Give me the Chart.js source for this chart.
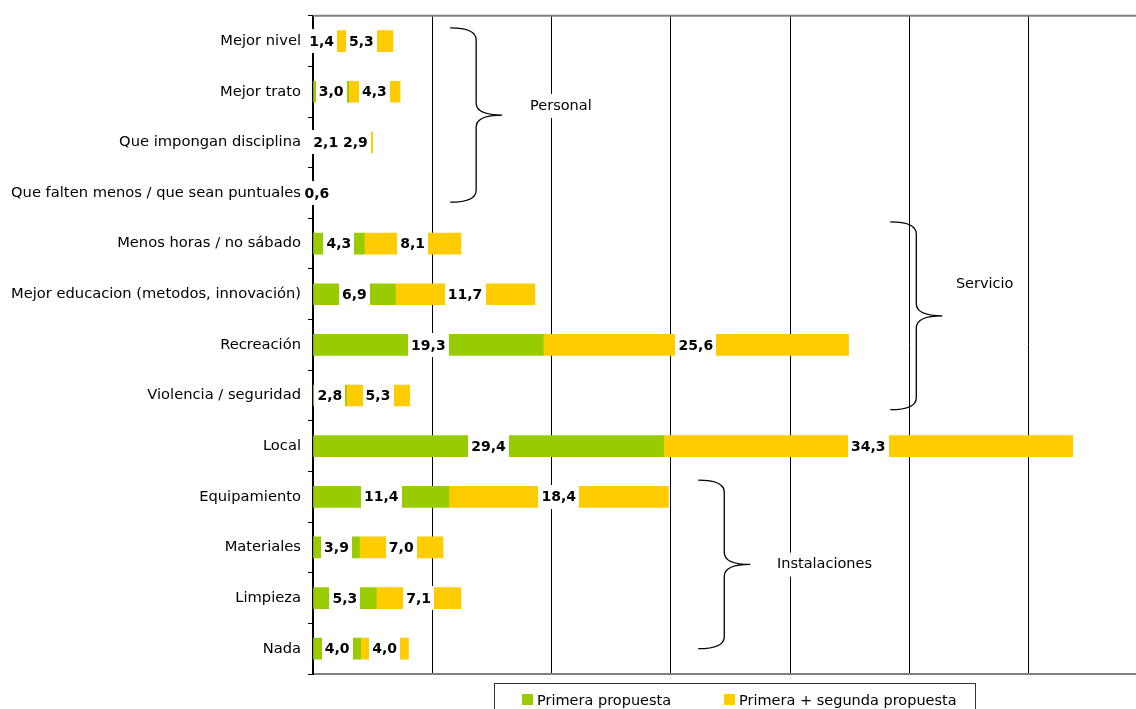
<!DOCTYPE html>
<html>
<head>
<meta charset="utf-8">
<script src="https://cdn.jsdelivr.net/npm/chart.js@4.4.0/dist/chart.umd.min.js"></script>
<style>
    html, body { margin: 0; padding: 0; background: #fff; overflow: hidden; }
</style>
</head>
<body>
<canvas id="propuestasChart" width="1136" height="709"></canvas>
<script>
const categorias = ['Mejor nivel', 'Mejor trato', 'Que impongan disciplina',
    'Que falten menos / que sean puntuales', 'Menos horas / no sábado',
    'Mejor educacion (metodos, innovación)', 'Recreación', 'Violencia / seguridad',
    'Local', 'Equipamiento', 'Materiales', 'Limpieza', 'Nada'];
const primera = [1.4, 3.0, 2.1, 0.6, 4.3, 6.9, 19.3, 2.8, 29.4, 11.4, 3.9, 5.3, 4.0];
const primeraSegunda = [5.3, 4.3, 2.9, null, 8.1, 11.7, 25.6, 5.3, 34.3, 18.4, 7.0, 7.1, 4.0];
const xTicks = [0, 10, 20, 30, 40, 50, 60];
const xMax = 69;

// llaves de agrupacion (posiciones en unidades de los ejes)
const grupos = [
    { texto: 'Personal', desde: -0.26, hasta: 3.18, x: 11.5, textoX: 18.2, textoY: 1.28 },
    { texto: 'Servicio', desde: 3.57, hasta: 7.28, x: 48.4, textoX: 53.9, textoY: 4.81 },
    { texto: 'Instalaciones', desde: 8.67, hasta: 12.0, x: 32.3, textoX: 38.9, textoY: 10.34 }
];

const verde = '#99CC00';
const amarillo = '#FFCC00';

const etiquetas = {
    id: 'etiquetas',
    afterDatasetsDraw(chart) {
        const ctx = chart.ctx;
        ctx.save();
        ctx.font = 'bold 14px "DejaVu Sans"';
        ctx.textAlign = 'center';
        ctx.textBaseline = 'middle';
        chart.data.datasets.forEach((ds, i) => {
            chart.getDatasetMeta(i).data.forEach((bar, j) => {
                const v = ds.data[j];
                if (v == null) return;
                const txt = v.toFixed(1).replace('.', ',');
                const cx = (bar.x + bar.base) / 2;
                const w = Math.round(ctx.measureText(txt).width + 6);
                ctx.fillStyle = '#fff';
                ctx.fillRect(Math.round(cx - w / 2), Math.round(bar.y) - 12, w, 24);
                ctx.fillStyle = '#000';
                ctx.fillText(txt, cx, bar.y + 1);
            });
        });
        ctx.restore();
    }
};

const extras = {
    id: 'extras',
    afterDraw(chart) {
        const ctx = chart.ctx;
        const xs = chart.scales.x, ys = chart.scales.y;
        const area = chart.chartArea;
        ctx.save();

        // borde superior del area
        ctx.strokeStyle = '#808080';
        ctx.lineWidth = 2;
        ctx.beginPath();
        ctx.moveTo(area.left, area.top);
        ctx.lineTo(area.right, area.top);
        ctx.stroke();

        // llaves
        ctx.strokeStyle = '#000';
        ctx.lineWidth = 1.3;
        ctx.font = '14.5px "DejaVu Sans"';
        ctx.textBaseline = 'middle';
        grupos.forEach(g => {
            const x0 = xs.getPixelForValue(g.x);
            const x1 = x0 + 26, x2 = x0 + 52;
            const y0 = ys.getPixelForValue(g.desde);
            const y2 = ys.getPixelForValue(g.hasta);
            const ym = (y0 + y2) / 2;
            const r = 12;
            ctx.beginPath();
            ctx.moveTo(x0, y0);
            ctx.bezierCurveTo(x0 + 18, y0, x1, y0 + 5, x1, y0 + r);
            ctx.lineTo(x1, ym - r);
            ctx.bezierCurveTo(x1, ym - 4, x1 + 10, ym, x2, ym);
            ctx.moveTo(x2, ym);
            ctx.bezierCurveTo(x1 + 10, ym, x1, ym + 4, x1, ym + r);
            ctx.lineTo(x1, y2 - r);
            ctx.bezierCurveTo(x1, y2 - 5, x0 + 18, y2, x0, y2);
            ctx.stroke();

            const tx = xs.getPixelForValue(g.textoX);
            const ty = ys.getPixelForValue(g.textoY);
            const w = ctx.measureText(g.texto).width;
            ctx.fillStyle = '#fff';
            ctx.fillRect(tx - 2, ty - 12, w + 4, 24);
            ctx.fillStyle = '#000';
            ctx.textAlign = 'left';
            ctx.fillText(g.texto, tx, ty);
        });

        // leyenda con recuadro
        const lx = 494, ly = 683;
        ctx.strokeStyle = '#333';
        ctx.lineWidth = 1;
        ctx.strokeRect(lx + 0.5, ly + 0.5, 481, 40);
        ctx.textBaseline = 'alphabetic';
        const items = [[verde, chart.data.datasets[0].label, 522], [amarillo, chart.data.datasets[1].label, 724]];
        items.forEach(([col, txt, ix]) => {
            ctx.fillStyle = col;
            ctx.fillRect(ix, 694, 11, 11);
            ctx.fillStyle = '#000';
            ctx.fillText(txt, ix + 15, 705);
        });
        ctx.restore();
    }
};

new Chart(document.getElementById('propuestasChart').getContext('2d'), {
    type: 'bar',
    data: {
        labels: categorias,
        datasets: [{
            label: 'Primera propuesta',
            data: primera,
            backgroundColor: verde,
            barThickness: 21
        }, {
            label: 'Primera + segunda propuesta',
            data: primeraSegunda,
            backgroundColor: amarillo,
            barThickness: 21
        }]
    },
    options: {
        indexAxis: 'y',
        responsive: false,
        animation: false,
        layout: { padding: { top: 15, bottom: 35, left: 0, right: 0 } },
        plugins: {
            legend: { display: false },
            tooltip: { enabled: false }
        },
        scales: {
            x: {
                stacked: true,
                min: 0,
                max: xMax,
                afterBuildTicks: s => { s.ticks = xTicks.map(v => ({ value: v })); },
                afterFit: s => { s.height = 0; },
                ticks: { display: false },
                grid: { color: '#000', lineWidth: 1, drawTicks: false },
                border: { color: '#808080', width: 2 }
            },
            y: {
                stacked: true,
                afterFit: s => { s.width = 313; },
                ticks: {
                    color: '#000',
                    autoSkip: false,
                    padding: 7,
                    font: { family: 'DejaVu Sans', size: 14.7 }
                },
                grid: { offset: true, drawOnChartArea: false, tickLength: 5, color: '#000', lineWidth: 1 },
                border: { color: '#000', width: 2 }
            }
        }
    },
    plugins: [etiquetas, extras]
});
</script>
</body>
</html>
